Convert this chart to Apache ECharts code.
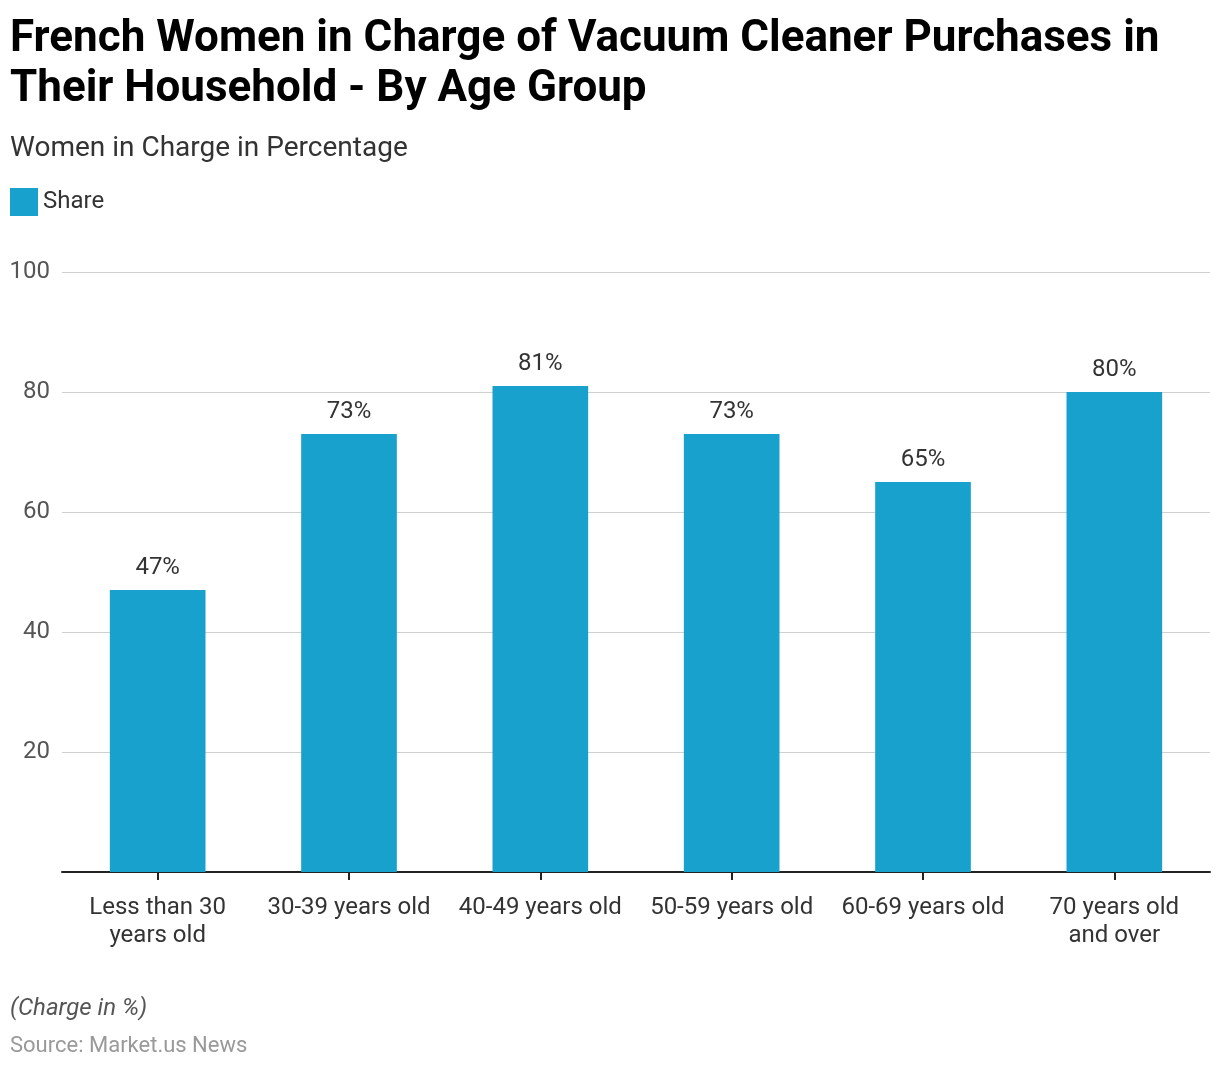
<!DOCTYPE html>
<html>
<head>
<meta charset="utf-8">
<script src="https://cdn.jsdelivr.net/npm/echarts@6/dist/echarts.min.js"></script>
<style>
html,body{margin:0;padding:0;background:#fff;}
#chart{width:1220px;height:1070px;}
</style>
</head>
<body>
<div id="chart"></div>
<script>
const categories = ['Less than 30\nyears old', '30-39 years old', '40-49 years old', '50-59 years old', '60-69 years old', '70 years old\nand over'];
const shareValues = [47, 73, 81, 73, 65, 80];
const seriesName = 'Share';

const chart = echarts.init(document.getElementById('chart'));
const font = 'Roboto';
chart.setOption({
  backgroundColor: '#fff',
  animation: false,
  textStyle: { fontFamily: font },
  title: [
    { text: 'French Women in Charge of Vacuum Cleaner Purchases in\nTheir Household - By Age Group', left: 10, top: 15, padding: 0,
      textStyle: { fontFamily: font, fontSize: 44, fontWeight: 'bold', color: '#000', lineHeight: 50 } },
    { text: 'Women in Charge in Percentage', left: 10, top: 135, padding: 0,
      textStyle: { fontFamily: font, fontSize: 28, fontWeight: 'normal', color: '#333' } },
    { text: '(Charge in %)', left: 10, top: 997, padding: 0,
      textStyle: { fontFamily: font, fontSize: 24, fontStyle: 'italic', fontWeight: 'normal', color: '#555' } },
    { text: 'Source: Market.us News', left: 10, top: 1035, padding: 0,
      textStyle: { fontFamily: font, fontSize: 22, fontWeight: 'normal', color: '#999' } }
  ],
  legend: {
    left: 10, top: 188, padding: 0, itemWidth: 28, itemHeight: 28, itemGap: 10,
    icon: 'rect',
    textStyle: { fontFamily: font, fontSize: 24, color: '#333', padding: [2, 0, 0, 0] },
    data: [seriesName]
  },
  grid: { left: 62, right: 10, top: 272, bottom: 198, containLabel: false },
  xAxis: {
    type: 'category', data: categories,
    axisLine: { lineStyle: { color: '#222', width: 2 } },
    axisTick: { show: true, alignWithLabel: true, length: 8, lineStyle: { color: '#222', width: 2 } },
    axisLabel: { fontFamily: font, fontSize: 24, color: '#333', margin: 22, lineHeight: 28, interval: 0 }
  },
  yAxis: {
    type: 'value', min: 0, max: 100, interval: 20,
    axisLine: { show: false }, axisTick: { show: false },
    axisLabel: { fontFamily: font, fontSize: 24, color: '#555', margin: 12, showMinLabel: false },
    splitLine: { lineStyle: { color: '#d0d0d0', width: 1 } }
  },
  series: [{
    name: seriesName, type: 'bar', data: shareValues, barWidth: '50%',
    itemStyle: { color: '#19a1cd' },
    label: { show: true, position: 'top', formatter: '{c}%', fontFamily: font, fontSize: 24, color: '#333', distance: 10 }
  }]
});
</script>
</body>
</html>
